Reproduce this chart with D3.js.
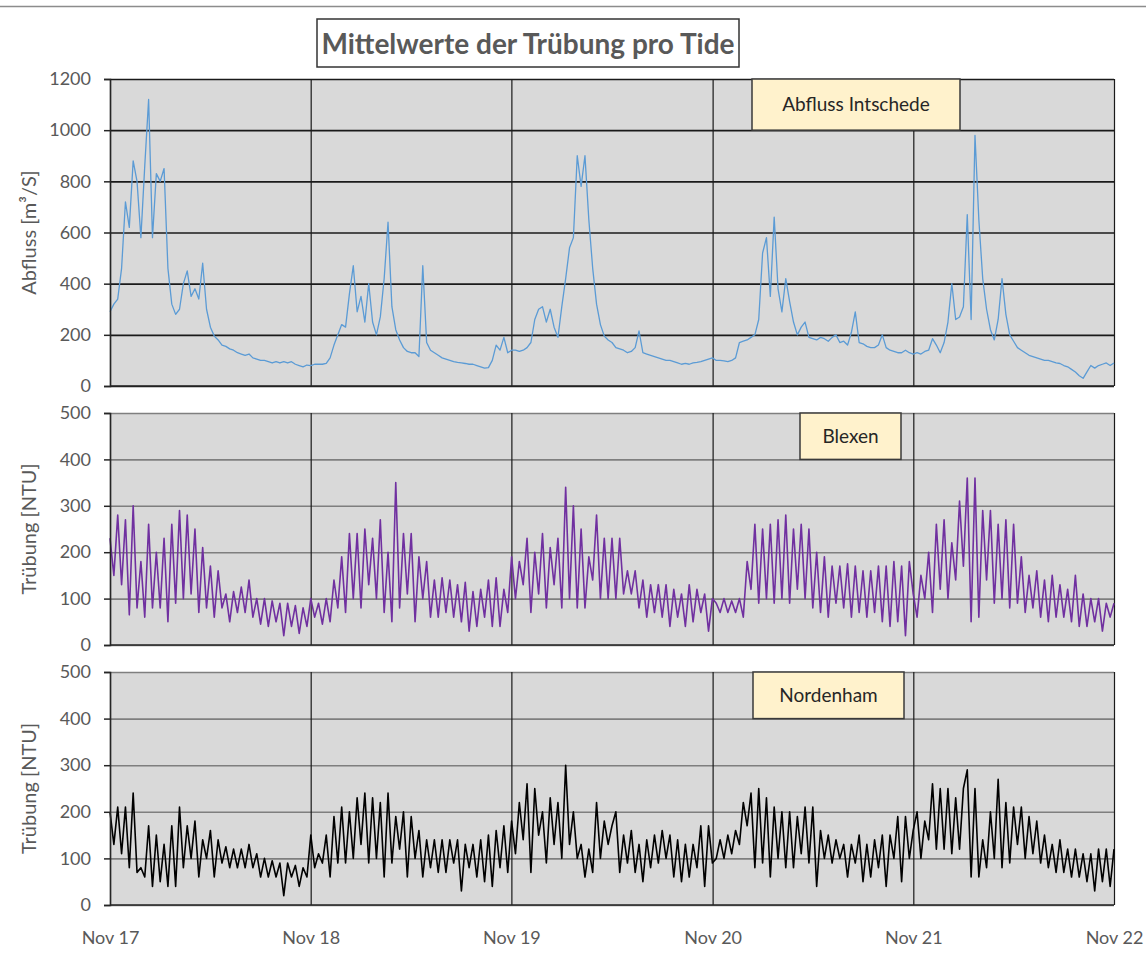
<!DOCTYPE html>
<html>
<head>
<meta charset="utf-8">
<script src="https://cdn.jsdelivr.net/npm/d3@7"></script>
<style>
	body { margin: 0; background: #fff; }
	svg { display: block; font-family: Lato, 'Open Sans', sans-serif; }
</style>
</head>
<body>
<svg id="chart"></svg>
<script>
// weekly values, Nov 2017 - Nov 2022
const abfluss = [
	290,320,340,460,720,620,880,800,580,860,1120,580,830,800,850,460,320,280,300,400,450,350,380,340,480,300,230,195,180,160,155,145,140,130,125,120,125,110,105,100,100,95,90,95,90,95,90,95,85,80,75,82,80,
	85,85,85,88,110,160,200,240,230,360,470,290,350,250,400,250,200,270,420,640,310,220,180,150,135,130,130,115,470,170,140,130,120,110,105,100,95,92,90,88,85,85,80,75,70,72,100,160,140,190,130,140,
	140,135,140,150,170,260,300,310,250,300,230,190,310,420,540,580,900,780,900,650,460,320,240,195,180,170,150,145,140,130,135,150,215,130,125,120,115,110,105,100,100,95,90,85,88,85,90,92,95,100,105,110,
	100,100,98,95,100,110,170,175,180,190,200,260,520,580,350,660,380,290,420,330,250,200,230,250,190,185,180,190,185,175,190,200,170,175,160,210,290,170,165,155,150,150,160,200,150,140,135,130,130,140,130,125,
	130,125,135,140,185,160,130,170,250,400,260,270,310,670,260,980,650,420,300,220,180,260,420,280,200,175,150,140,130,120,115,110,105,100,100,95,90,88,80,75,65,55,40,30,55,80,70,80,85,90,80,90
];

const blexen = [
	230,150,280,130,270,65,300,80,180,60,260,80,200,80,230,50,260,90,290,100,280,110,250,70,210,80,170,60,160,80,110,50,115,70,125,70,140,60,100,45,100,40,95,50,90,20,90,40,85,25,80,40,100,
	60,90,45,100,50,140,80,190,70,240,100,240,80,250,130,230,100,270,70,200,50,350,80,240,110,240,50,190,100,180,60,140,60,145,70,140,60,130,50,135,30,115,40,120,60,140,40,145,40,120,70,190,
	100,180,130,230,70,200,110,240,80,210,130,230,80,340,100,300,80,250,80,190,140,280,100,230,100,230,100,230,110,160,110,160,80,140,60,130,70,130,60,130,40,120,60,110,40,130,50,120,70,110,30,100,
	90,70,100,70,95,70,100,60,180,120,260,90,250,100,260,90,270,100,280,90,250,120,260,100,250,80,200,70,190,60,170,90,170,80,175,60,170,70,160,60,160,70,170,50,170,40,180,50,170,20,180,110,
	60,150,100,200,70,260,120,270,100,220,140,310,170,360,50,360,60,290,140,290,90,260,100,270,80,260,90,190,70,150,80,160,60,140,50,150,60,130,60,120,50,150,40,110,40,100,50,100,30,90,60,90
];

const nordenham = [
	200,130,210,110,210,80,240,70,80,60,170,40,150,50,130,40,170,40,210,80,170,100,180,60,140,100,160,60,140,90,125,80,120,80,120,80,130,80,110,60,100,60,95,60,90,20,90,60,85,40,80,60,150,
	80,110,90,150,60,190,90,210,90,200,100,230,130,240,90,230,100,220,60,240,90,190,120,200,60,190,100,160,60,140,80,140,70,140,70,140,90,140,30,130,80,130,60,140,50,150,40,160,80,170,70,180,
	110,220,140,260,70,250,150,200,90,230,130,220,100,300,130,200,100,130,60,120,70,220,100,180,130,170,200,70,150,90,160,70,130,50,140,80,150,90,160,100,150,60,140,50,130,60,130,80,170,40,170,90,
	100,140,100,150,110,160,130,220,170,240,80,250,90,230,60,210,100,200,80,200,80,190,110,210,90,210,40,160,100,150,90,140,100,130,60,130,90,150,50,130,60,140,80,150,40,150,100,190,50,190,100,160,
	200,100,180,140,260,120,250,120,250,110,230,120,250,290,60,250,60,140,80,200,100,270,80,220,90,210,130,210,100,190,110,180,90,150,80,130,70,140,70,120,60,120,60,110,50,110,30,120,50,120,40,120
];

const tickYears = [2017, 2018, 2019, 2020, 2021, 2022];

const width = 1146;
const height = 953;
const left = 110;
const right = 1114;

const svg = d3.select('#chart')
	.attr('width', width)
	.attr('height', height);

const t0 = new Date(2017, 10, 1);
const t1 = new Date(2022, 10, 1);
const xTicks = tickYears.map(y => new Date(y, 10, 1));

const x = d3.scaleTime()
	.domain([t0, t1])
	.range([left, right]);

const toPoints = (vals) => vals.map((v, i) => ({
	date: new Date(+t0 + (t1 - t0) * i / (vals.length - 1)),
	value: v
}));

const panels = [
	{ values: abfluss, max: 1200, step: 200, top: 79, bottom: 386, color: '#5B9BD5', width: 1.3, grid: '#1a1a1a',
		label: 'Abfluss [m³/S]', legend: 'Abfluss Intschede', lx: 752, lw: 208 },
	{ values: blexen, max: 500, step: 100, top: 413, bottom: 645, color: '#7030A0', width: 1.6, grid: '#7f7f7f',
		label: 'Trübung [NTU]', legend: 'Blexen', lx: 800, lw: 101 },
	{ values: nordenham, max: 500, step: 100, top: 672, bottom: 905, color: '#000000', width: 1.6, grid: '#7f7f7f',
		label: 'Trübung [NTU]', legend: 'Nordenham', lx: 753, lw: 151 }
];

// thin rule along the top
svg.append('line')
	.attr('x1', 0).attr('x2', width)
	.attr('y1', 6.5).attr('y2', 6.5)
	.attr('stroke', '#8c8c8c')
	.attr('stroke-width', 1.5);

panels.forEach((p, idx) => {
	const y = d3.scaleLinear()
		.domain([0, p.max])
		.range([p.bottom, p.top]);
	const yTicks = d3.range(0, p.max + 1, p.step);
	const g = svg.append('g');

	g.append('rect')
		.attr('x', left)
		.attr('y', p.top)
		.attr('width', right - left)
		.attr('height', p.bottom - p.top)
		.attr('fill', '#d9d9d9');

	// horizontal grid
	g.append('g')
		.attr('transform', `translate(${left},0)`)
		.call(d3.axisLeft(y).tickValues(yTicks).tickSize(-(right - left)).tickFormat(''))
		.call(s => s.select('.domain').remove())
		.selectAll('line')
			.attr('stroke', p.grid)
			.attr('stroke-width', 1.6);

	// vertical grid
	g.append('g')
		.attr('transform', `translate(0,${p.bottom})`)
		.call(d3.axisBottom(x).tickValues(xTicks).tickSize(-(p.bottom - p.top)).tickFormat(''))
		.call(s => s.select('.domain').remove())
		.selectAll('line')
			.attr('stroke', '#1a1a1a')
			.attr('stroke-width', 1.2);

	const line = d3.line()
		.x(d => x(d.date))
		.y(d => y(d.value));

	g.append('path')
		.datum(toPoints(p.values))
		.attr('fill', 'none')
		.attr('stroke', p.color)
		.attr('stroke-width', p.width)
		.attr('stroke-linejoin', 'round')
		.attr('d', line);

	// legend box, from the top of the plot down to the first grid line
	const lh = y(p.max - p.step) - p.top;
	g.append('rect')
		.attr('x', p.lx)
		.attr('y', p.top)
		.attr('width', p.lw)
		.attr('height', lh)
		.attr('fill', '#fff2cc')
		.attr('stroke', '#3a3a3a')
		.attr('stroke-width', 1.5);
	g.append('text')
		.attr('x', p.lx + p.lw / 2)
		.attr('y', p.top + lh / 2)
		.attr('dy', '0.35em')
		.attr('text-anchor', 'middle')
		.attr('font-size', 19)
		.attr('fill', '#262626')
		.text(p.legend);

	// left axis with labels
	g.append('g')
		.attr('transform', `translate(${left},0)`)
		.call(d3.axisLeft(y).tickValues(yTicks).tickSize(6).tickPadding(13).tickFormat(d3.format('d')))
		.call(s => s.select('.domain').attr('stroke', '#262626').attr('stroke-width', 1.5))
		.call(s => s.selectAll('line').attr('stroke', '#262626').attr('stroke-width', 1.5))
		.call(s => s.selectAll('text')
			.attr('font-size', 18)
			.attr('font-family', 'Lato, sans-serif')
			.attr('fill', '#595959'));

	// zero line
	g.append('line')
		.attr('x1', left).attr('x2', right)
		.attr('y1', p.bottom).attr('y2', p.bottom)
		.attr('stroke', '#262626')
		.attr('stroke-width', 1.5);

	g.append('text')
		.attr('transform', `translate(29,${(p.top + p.bottom) / 2}) rotate(-90)`)
		.attr('text-anchor', 'middle')
		.attr('dy', '0.35em')
		.attr('font-size', 20)
		.attr('fill', '#595959')
		.text(p.label);

	if (idx === panels.length - 1) {
		g.append('g')
			.attr('transform', `translate(0,${p.bottom})`)
			.call(d3.axisBottom(x).tickValues(xTicks).tickSize(0).tickPadding(26).tickFormat(d3.timeFormat('%b %y')))
			.call(s => s.select('.domain').remove())
			.call(s => s.selectAll('text')
				.attr('font-size', 18)
				.attr('font-family', 'Lato, sans-serif')
				.attr('fill', '#595959'));
	}
});

// title box
svg.append('rect')
	.attr('x', 317)
	.attr('y', 19)
	.attr('width', 422)
	.attr('height', 48)
	.attr('fill', '#fff')
	.attr('stroke', '#333')
	.attr('stroke-width', 1.5);

svg.append('text')
	.attr('x', 528)
	.attr('y', 44)
	.attr('dy', '0.35em')
	.attr('text-anchor', 'middle')
	.attr('font-size', 28)
	.attr('font-weight', 'bold')
	.attr('fill', '#595959')
	.text('Mittelwerte der Trübung pro Tide');
</script>
</body>
</html>
